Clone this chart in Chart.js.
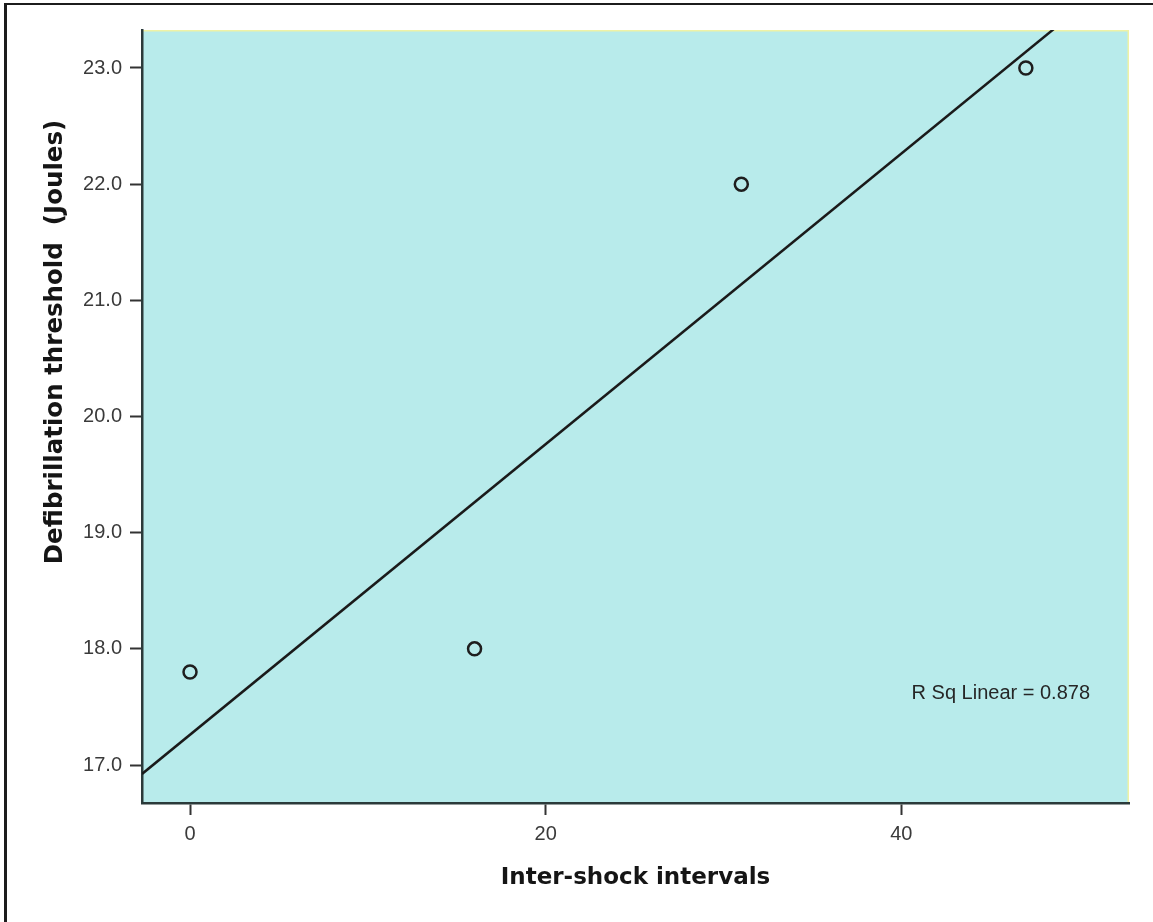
<!DOCTYPE html>
<html>
<head>
<meta charset="utf-8">
<script src="https://cdn.jsdelivr.net/npm/chart.js@4.4.1/dist/chart.umd.min.js"></script>
<style>
  html, body { margin: 0; padding: 0; background: #fff; }
  #wrap { position: relative; width: 1153px; height: 922px; overflow: hidden; }
  #frame { position: absolute; left: 4px; top: 3px; width: 1300px; height: 1100px;
           border-top: 2.5px solid #1c1c1c; border-left: 3px solid #1c1c1c; }
  canvas { position: absolute; left: 0; top: 0; }
</style>
</head>
<body>
<div id="wrap">
  <div id="frame"></div>
  <canvas id="chart" width="1153" height="922"></canvas>
</div>
<script>
// Observations: inter-shock interval vs. defibrillation threshold
const intervals = [0, 16, 31, 47];
const thresholds = [17.8, 18.0, 22.0, 23.0];

// Axis ranges and tick labels
const xLimits = [-2.7, 52.8];
const yLimits = [16.673, 23.327];
const xTickValues = [0, 20, 40];
const yTickValues = [17, 18, 19, 20, 21, 22, 23];

const xTitle = 'Inter-shock intervals';
const yTitle = 'Defibrillation threshold  (Joules)';

// Ordinary least-squares fit of thresholds on intervals
function linearFit(xs, ys) {
  const n = xs.length;
  const mx = xs.reduce((s, v) => s + v, 0) / n;
  const my = ys.reduce((s, v) => s + v, 0) / n;
  let sxx = 0, sxy = 0, syy = 0;
  for (let i = 0; i < n; i++) {
    sxx += (xs[i] - mx) ** 2;
    sxy += (xs[i] - mx) * (ys[i] - my);
    syy += (ys[i] - my) ** 2;
  }
  const slope = sxy / sxx;
  return { slope, intercept: my - slope * mx, r2: (sxy * sxy) / (sxx * syy) };
}
const fit = linearFit(intervals, thresholds);
const fitAt = x => fit.intercept + fit.slope * x;
const fitLabel = 'R Sq Linear = ' + fit.r2.toFixed(3);

const plotDecor = {
  id: 'plotDecor',
  beforeDraw(chart) {
    const { ctx, chartArea: a } = chart;
    ctx.save();
    ctx.fillStyle = '#b8ebeb';
    ctx.fillRect(a.left, a.top, a.right - a.left, a.bottom - a.top);
    ctx.strokeStyle = '#eef2a6';
    ctx.lineWidth = 1.5;
    ctx.beginPath();
    ctx.moveTo(a.left, a.top + 0.75);
    ctx.lineTo(a.right - 0.75, a.top + 0.75);
    ctx.lineTo(a.right - 0.75, a.bottom);
    ctx.stroke();
    ctx.restore();
  },
  afterDraw(chart) {
    const { ctx, chartArea: a } = chart;
    ctx.save();
    ctx.fillStyle = '#151515';
    ctx.textAlign = 'center';
    ctx.textBaseline = 'middle';
    ctx.font = 'bold 23px "DejaVu Sans"';
    ctx.fillText(xTitle, (a.left + a.right) / 2, 878);
    ctx.translate(56, 342);
    ctx.rotate(-Math.PI / 2);
    ctx.font = 'bold 24.5px "DejaVu Sans"';
    ctx.fillText(yTitle, 0, 0);
    ctx.restore();

    ctx.save();
    ctx.fillStyle = '#262626';
    ctx.font = '20px "Liberation Sans"';
    ctx.textAlign = 'right';
    ctx.textBaseline = 'middle';
    ctx.fillText(fitLabel, a.right - 39, 693);
    ctx.restore();
  }
};

const tickFont = { family: 'Liberation Sans', size: 20 };

new Chart(document.getElementById('chart'), {
  type: 'scatter',
  data: {
    datasets: [
      {
        type: 'scatter',
        data: intervals.map((x, i) => ({ x, y: thresholds[i] })),
        pointStyle: 'circle',
        pointRadius: 6.5,
        pointBorderWidth: 2.5,
        pointBorderColor: '#1e1e1e',
        pointBackgroundColor: 'rgba(0,0,0,0)',
        showLine: false,
        order: 1
      },
      {
        type: 'line',
        data: xLimits.map(x => ({ x, y: fitAt(x) })),
        borderColor: '#1a1a1a',
        borderWidth: 2.5,
        pointRadius: 0,
        fill: false,
        clip: 0,
        order: 2
      }
    ]
  },
  options: {
    responsive: false,
    animation: false,
    layout: { padding: { top: 30, right: 24, left: 0, bottom: 0 } },
    plugins: { legend: { display: false }, tooltip: { enabled: false } },
    scales: {
      x: {
        type: 'linear',
        min: xLimits[0],
        max: xLimits[1],
        afterBuildTicks: s => { s.ticks = xTickValues.map(v => ({ value: v })); },
        afterFit: s => { s.height = 119; },
        ticks: { font: tickFont, color: '#3a3a3a', padding: 7, maxRotation: 0,
                 callback: v => String(v) },
        grid: { display: true, drawOnChartArea: false, drawTicks: true,
                tickLength: 12, tickWidth: 2, tickColor: '#333', color: '#333' },
        border: { display: true, color: '#2b3a3a', width: 2.5 }
      },
      y: {
        type: 'linear',
        min: yLimits[0],
        max: yLimits[1],
        afterBuildTicks: s => { s.ticks = yTickValues.map(v => ({ value: v })); },
        afterFit: s => { s.width = 142; },
        ticks: { font: tickFont, color: '#3a3a3a', padding: 8,
                 callback: v => Number(v).toFixed(1) },
        grid: { display: true, drawOnChartArea: false, drawTicks: true,
                tickLength: 12, tickWidth: 2, tickColor: '#333', color: '#333' },
        border: { display: true, color: '#2b3a3a', width: 2.5 }
      }
    }
  },
  plugins: [plotDecor]
});
</script>
</body>
</html>
